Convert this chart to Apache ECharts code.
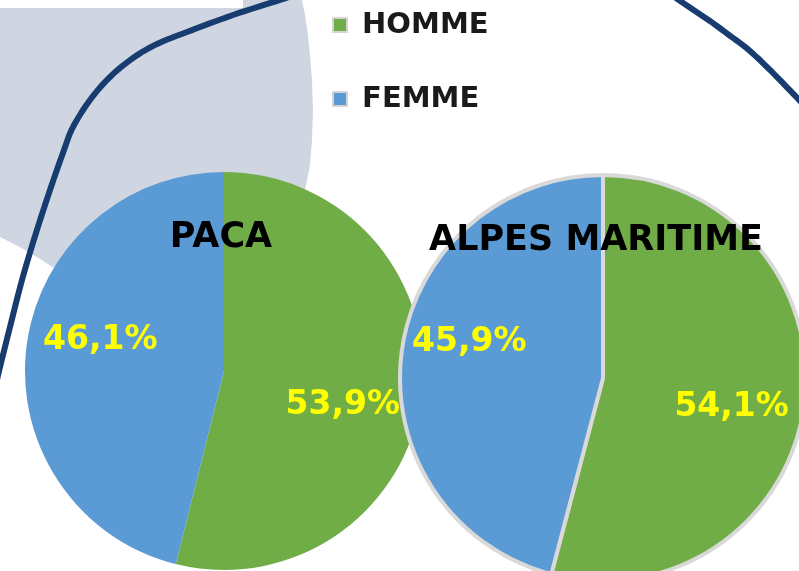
<!DOCTYPE html>
<html>
<head>
<meta charset="utf-8">
<script src="https://cdn.jsdelivr.net/npm/echarts@6/dist/echarts.min.js"></script>
<style>
html,body{margin:0;padding:0;background:#fff;}
#c{width:799px;height:571px;}
</style>
</head>
<body>
<div id="c"></div>
<script>
// ---- data ----
const categories = ['HOMME', 'FEMME'];
const regions = ['PACA', 'ALPES MARITIME'];
const pacaValues = [53.9, 46.1];
const alpesValues = [54.1, 45.9];

// ---- styles ----
const sliceColors = ['#70ad47', '#5b9bd5'];
const FONT = 'DejaVu Sans';
const pacaOffsets = [[17, 22], [-22, -18]];
const alpesOffsets = [[25, 16], [-30, -22]];

function fmt(p) {
  return p.value.toFixed(1).replace('.', ',') + '%';
}
function buildData(values, offsets, extraStyle) {
  return values.map((v, i) => ({
    name: categories[i],
    value: v,
    itemStyle: Object.assign({ color: sliceColors[i] }, extraStyle || {}),
    label: { offset: offsets[i] }
  }));
}

// Catmull-Rom sampling for the decorative background curves
function spline(pts, steps) {
  const out = [];
  for (let i = 0; i < pts.length - 1; i++) {
    const p0 = pts[Math.max(i - 1, 0)], p1 = pts[i], p2 = pts[i + 1], p3 = pts[Math.min(i + 2, pts.length - 1)];
    for (let s = 0; s < steps; s++) {
      const t = s / steps, t2 = t * t, t3 = t2 * t;
      const f = (a, b, c, d) => 0.5 * ((2 * b) + (-a + c) * t + (2 * a - 5 * b + 4 * c - d) * t2 + (-a + 3 * b - 3 * c + d) * t3);
      out.push([f(p0[0], p1[0], p2[0], p3[0]), f(p0[1], p1[1], p2[1], p3[1])]);
    }
  }
  out.push(pts[pts.length - 1]);
  return out;
}

const leftCurve = spline([[292, -4], [280, 0], [233, 15], [187, 32], [157, 44], [133, 58], [110, 77], [90, 100],
  [73, 127], [64, 150], [50, 190], [36, 233], [22, 280], [10, 327], [0, 367], [-4, 384]], 8);
const rightCurve = spline([[673, -4], [692, 9], [710, 21], [729, 35], [750, 51], [774, 74], [803, 104]], 8);

const chart = echarts.init(document.getElementById('c'), null, { renderer: 'canvas' });

const labelStyle = {
  show: true,
  position: 'inside',
  formatter: fmt,
  color: '#ffff00',
  fontFamily: FONT,
  fontWeight: 'bold',
  fontSize: 33
};

chart.setOption({
  animation: false,
  backgroundColor: '#ffffff',
  graphic: [
    {
      type: 'polygon',
      z: 0,
      shape: {
        points: [[0, 8], [243, 8], [243, 0], [302, 0], [305, 15], [308, 35], [310, 55], [312, 80], [313, 110],
                 [312, 140], [310, 165], [305, 190], [290, 212], [54, 268], [40, 259], [25, 250], [12, 243], [0, 237]]
      },
      style: { fill: '#cfd6e2' }
    },
    {
      type: 'polyline',
      z: 1,
      shape: { points: leftCurve },
      style: { stroke: '#173c70', lineWidth: 6, fill: null, lineJoin: 'round' }
    },
    {
      type: 'polyline',
      z: 1,
      shape: { points: rightCurve },
      style: { stroke: '#173c70', lineWidth: 6, fill: null, lineJoin: 'round' }
    }
  ],
  title: [
    {
      text: regions[0],
      left: 221, top: 220, textAlign: 'center', padding: 0,
      textStyle: { fontFamily: FONT, fontWeight: 'bold', fontSize: 35, color: '#000' }
    },
    {
      text: regions[1],
      left: 596, top: 223, textAlign: 'center', padding: 0,
      textStyle: { fontFamily: FONT, fontWeight: 'bold', fontSize: 35, color: '#000' }
    }
  ],
  legend: {
    data: categories,
    orient: 'vertical',
    left: 332, top: 10,
    padding: 0,
    itemWidth: 14, itemHeight: 14,
    itemGap: 44,
    icon: 'rect',
    selectedMode: false,
    formatter: (n) => ' ' + n,
    itemStyle: { borderColor: '#d4d4d4', borderWidth: 2 },
    textStyle: { fontFamily: FONT, fontWeight: 'bold', fontSize: 29, lineHeight: 30, color: '#1a1a1a' }
  },
  series: [
    {
      type: 'pie',
      name: regions[0],
      center: [224, 371],
      radius: 199,
      startAngle: 90,
      clockwise: true,
      emphasis: { disabled: true },
      labelLine: { show: false },
      label: labelStyle,
      data: buildData(pacaValues, pacaOffsets)
    },
    {
      type: 'pie',
      name: regions[1],
      center: [603, 378],
      radius: 203,
      startAngle: 90,
      clockwise: true,
      emphasis: { disabled: true },
      labelLine: { show: false },
      label: labelStyle,
      data: buildData(alpesValues, alpesOffsets, { borderColor: '#d9d9d9', borderWidth: 4 })
    }
  ]
});
</script>
</body>
</html>
